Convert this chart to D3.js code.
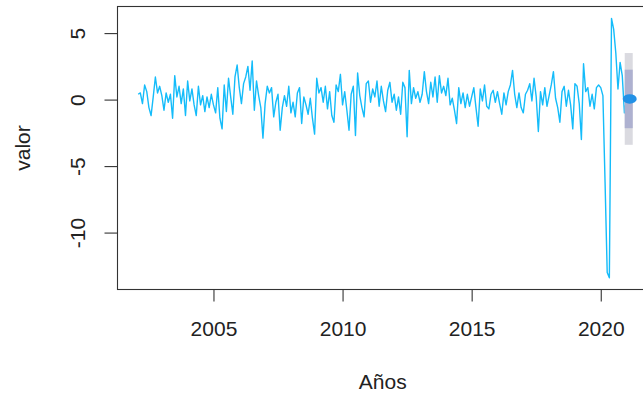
<!DOCTYPE html>
<html>
<head>
<meta charset="utf-8">
<script src="https://cdn.jsdelivr.net/npm/d3@7"></script>
<style>
  html, body { margin: 0; padding: 0; background: #fff; }
  svg { display: block; font-family: "Liberation Sans", Arial, sans-serif; }
</style>
</head>
<body>
<svg id="chart" width="643" height="394"></svg>
<script>
// Monthly series, starting February 2002 (frequency 12)
const startYear = 2002 + 1 / 12;
const values2002 = [0.4, 0.5, -0.3, 1.1, 0.6, -0.6, -1.2, 0.2, 1.7, 0.5, 1.0];
const values2003 = [0.3, -0.8, 0.5, -0.2, 0.4, -1.4, 1.8, 0.2, 1.0, -0.3, 0.8, -1.2];
const values2004 = [1.4, -0.1, 0.8, -0.4, -1.2, 1.0, -0.4, 0.3, -0.9, 0.2, -0.6, 0.4];
const values2005 = [-0.4, -1.0, 0.9, -1.4, -2.2, 1.1, -0.9, 1.6, 0.2, -1.1, 1.7, 2.6];
const values2006 = [0.9, -0.3, 1.2, 1.7, 2.5, 0.7, 2.9, -0.8, 1.4, 0.3, -0.6, -2.9];
const values2007 = [-0.3, 1.0, 0.5, 0.9, -1.3, -0.2, 0.4, -2.3, -0.6, 0.3, -0.5, 1.0];
const values2008 = [-1.0, -0.2, -1.3, 0.5, 0.9, -1.8, 0.2, -0.4, -1.1, 0.1, -1.4, -2.6];
const values2009 = [1.6, 0.5, 0.9, -0.2, 1.0, -0.7, 0.6, -1.2, -1.7, 1.1, 0.6, 1.9];
const values2010 = [-0.4, 0.6, -0.8, -2.3, 0.4, 1.0, -2.7, 2.0, 0.3, -0.6, -1.3, 1.2];
const values2011 = [1.4, -0.2, 0.8, 0.2, 1.4, -0.5, 1.0, -0.1, -0.9, 0.7, 1.3, -0.2];
const values2012 = [0.4, -0.8, 0.2, -1.1, 1.3, 0.9, -2.8, 2.2, -0.3, 0.9, 0.1, 0.6];
const values2013 = [-0.2, 0.4, 2.1, 0.6, -0.3, 1.3, 0.2, 1.7, -0.2, 1.8, 0.5, 1.0];
const values2014 = [0.3, 1.6, -0.4, 0.1, -0.8, -1.8, 0.9, -0.3, 0.5, -0.6, 0.4, -0.5];
const values2015 = [0.2, 0.9, -0.6, -2.0, 0.8, -0.1, 1.1, -0.5, -0.7, 0.4, 0.7, -0.2];
const values2016 = [0.6, -0.3, -1.1, 0.5, -0.4, 0.6, 1.1, 2.2, 0.4, -0.6, 0.5, -0.6];
const values2017 = [-1.0, 0.4, 0.7, 1.2, -0.1, 1.6, 0.2, -2.4, 0.6, -0.4, 0.9, -0.5];
const values2018 = [0.3, 1.1, 2.1, 0.1, -0.6, -1.7, 0.6, 1.0, -0.5, 0.7, -0.4, -2.2];
const values2019 = [1.2, 1.0, -0.3, -3.0, 2.7, 0.6, 0.9, -0.5, 0.4, -0.7, 0.9, 1.1];
const values2020 = [0.9, 0.3, -6.2, -13.0, -13.4, 6.1, 5.3, 3.5, 0.8, 2.8, 1.8, -1.0];
const values2021 = [0.1];

// One-step-ahead forecast with 80% and 95% intervals
const forecastMean = [0.05];
const lower80 = [-2.15], upper80 = [2.25];
const lower95 = [-3.4], upper95 = [3.5];

const xTicks = [2005, 2010, 2015, 2020];
const yTicks = [-10, -5, 0, 5];
const xLabel = "Años";
const yLabel = "valor";

const series = [].concat(values2002, values2003, values2004, values2005, values2006,
  values2007, values2008, values2009, values2010, values2011, values2012, values2013,
  values2014, values2015, values2016, values2017, values2018, values2019, values2020,
  values2021).map((v, i) => ({ t: startYear + i / 12, v }));
const forecastT = series[series.length - 1].t + 1 / 12;

const svg = d3.select("#chart");
const plot = { left: 117.5, top: 6.5, right: 648, bottom: 289.5 };
const fontSize = "21px";

const x = d3.scaleLinear().domain([2001.283, 2021.83]).range([plot.left, plot.right]);
const y = d3.scaleLinear().domain([-14.28, 7.0]).range([plot.bottom, plot.top]);

// Observed series
svg.append("path")
  .datum(series)
  .attr("fill", "none")
  .attr("stroke", "#14bcfa")
  .attr("stroke-width", 1.4)
  .attr("stroke-linejoin", "round")
  .attr("d", d3.line().x(d => x(d.t)).y(d => y(d.v)));

// Prediction intervals drawn as wide vertical bars
const bandW = 8;
svg.append("rect")
  .attr("x", x(forecastT) - bandW / 2).attr("width", bandW)
  .attr("y", y(upper95[0])).attr("height", y(lower95[0]) - y(upper95[0]))
  .attr("fill", "#dadae0");
svg.append("rect")
  .attr("x", x(forecastT) - bandW / 2).attr("width", bandW)
  .attr("y", y(upper80[0])).attr("height", y(lower80[0]) - y(upper80[0]))
  .attr("fill", "#aeb1d0");

// Point forecast
svg.append("ellipse")
  .attr("cx", x(forecastT) + 1).attr("cy", y(forecastMean[0]))
  .attr("rx", 7).attr("ry", 4.8)
  .attr("fill", "#2391e6");

// Plot frame
svg.append("rect")
  .attr("x", plot.left).attr("y", plot.top)
  .attr("width", plot.right - plot.left).attr("height", plot.bottom - plot.top)
  .attr("fill", "none").attr("stroke", "#333").attr("stroke-width", 1.1);

// Axes
const xAxis = svg.append("g")
  .attr("transform", `translate(0,${plot.bottom})`)
  .call(d3.axisBottom(x).tickValues(xTicks).tickFormat(d => String(d)).tickSize(12).tickPadding(19.5));
xAxis.select(".domain").remove();

const yAxis = svg.append("g")
  .attr("transform", `translate(${plot.left},0)`)
  .call(d3.axisLeft(y).tickValues(yTicks).tickFormat(d => String(d)).tickSize(13));
yAxis.select(".domain").remove();
yAxis.selectAll(".tick text")
  .attr("text-anchor", "middle")
  .attr("transform", "rotate(-90)")
  .attr("x", 0).attr("y", -32.5).attr("dy", 0);

svg.selectAll(".tick line").attr("stroke", "#333").attr("stroke-width", 1.1);
svg.selectAll(".tick text").attr("fill", "#222").style("font-size", fontSize)
  .style("font-family", "'Liberation Sans', Arial, sans-serif");

// Axis titles
svg.append("text")
  .attr("x", (plot.left + plot.right) / 2).attr("y", 389)
  .attr("text-anchor", "middle").attr("fill", "#222").style("font-size", fontSize)
  .text(xLabel);
svg.append("text")
  .attr("transform", `translate(30,${(plot.top + plot.bottom) / 2}) rotate(-90)`)
  .attr("text-anchor", "middle").attr("fill", "#222").style("font-size", fontSize)
  .text(yLabel);
</script>
</body>
</html>
